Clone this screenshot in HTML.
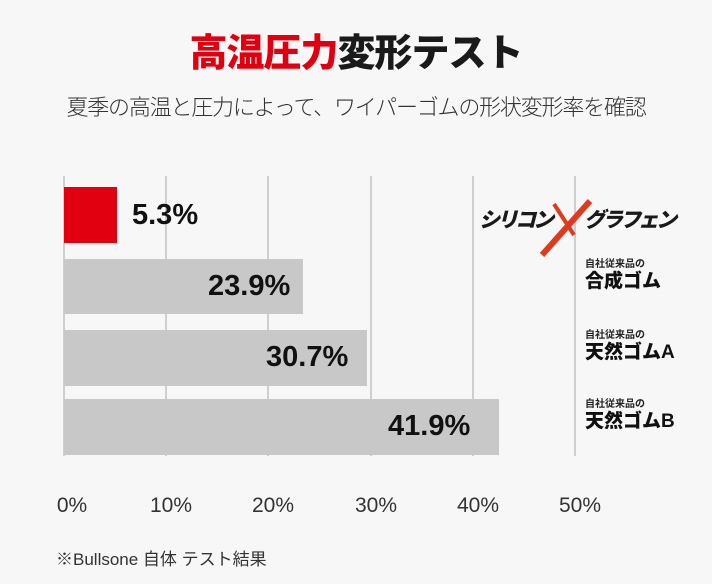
<!DOCTYPE html>
<html><head><meta charset="utf-8"><style>
body{margin:0;width:712px;height:584px;background:#f7f7f7;font-family:"Liberation Sans","Noto Sans CJK JP",sans-serif;position:relative;overflow:hidden}
.a{position:absolute;white-space:nowrap}
.g{position:absolute;top:176px;height:280px;width:2px;background:#cfcfcf}
.b{position:absolute;background:#c8c8c8}
.v{position:absolute;font-size:29px;font-weight:bold;color:#111}
.t{position:absolute;top:494px;font-size:21px;color:#333;width:80px;text-align:center}
.s{font-size:10px;font-weight:bold;color:#222;line-height:12px}
.l{font-size:19px;font-weight:900;color:#111;line-height:22px}
.k{font-size:21px;font-weight:900;font-style:italic;color:#1a1a1a;letter-spacing:-3px}
</style></head><body>
<div class="a" style="left:0;width:712px;text-align:center;top:22px;font-size:38px;font-weight:900;letter-spacing:-1px"><span style="color:#e0000f">高温圧力</span><span style="color:#1a1a1a">変形テスト</span></div>
<div class="a" style="left:0;width:712px;text-align:center;top:90px;font-size:22px;color:#333;font-weight:300;letter-spacing:-1.2px">夏季の高温と圧力によって、ワイパーゴムの形状変形率を確認</div>
<div class="g" style="left:63px"></div><div class="g" style="left:165px"></div><div class="g" style="left:267px"></div><div class="g" style="left:370px"></div><div class="g" style="left:472px"></div><div class="g" style="left:574px"></div>
<div class="b" style="left:64px;top:187px;width:53px;height:56px;background:#e0000f"></div>
<div class="v" style="left:132px;top:199px">5.3%</div>
<div class="b" style="left:64px;top:259px;width:239px;height:55px"></div>
<div class="v" style="left:208px;top:270px">23.9%</div>
<div class="b" style="left:64px;top:330px;width:303px;height:56px"></div>
<div class="v" style="left:266px;top:341px">30.7%</div>
<div class="b" style="left:64px;top:399px;width:435px;height:56px"></div>
<div class="v" style="left:388px;top:410px">41.9%</div>
<div class="a k" style="left:479px;top:204px">シリコン</div>
<div class="a k" style="left:584px;top:204px">グラフェン</div>
<svg class="a" style="left:536px;top:195px" width="66" height="64"><path d="M54 6 L6 60" stroke="#e03a1e" stroke-width="6" fill="none"/><path d="M18 9 L38 40" stroke="#e03a1e" stroke-width="4" fill="none"/></svg>
<div class="a" style="left:585px;top:259px"><div class="s">自社従来品の</div><div class="l">合成ゴム</div></div>
<div class="a" style="left:585px;top:330px"><div class="s">自社従来品の</div><div class="l">天然ゴムA</div></div>
<div class="a" style="left:585px;top:399px"><div class="s">自社従来品の</div><div class="l">天然ゴムB</div></div>
<div class="t" style="left:32px">0%</div><div class="t" style="left:131px">10%</div><div class="t" style="left:233px">20%</div><div class="t" style="left:336px">30%</div><div class="t" style="left:438px">40%</div><div class="t" style="left:540px">50%</div>
<div class="a" style="left:56px;top:545px;font-size:17px;color:#333">※Bullsone 自体 テスト結果</div>
</body></html>
